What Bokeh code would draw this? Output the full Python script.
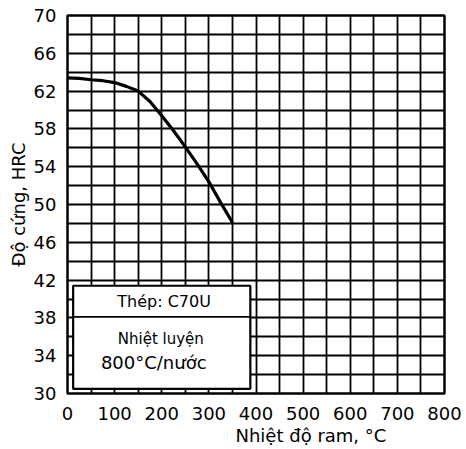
from bokeh.plotting import figure
from bokeh.models import SingleIntervalTicker, FixedTicker, Label, BoxAnnotation, Title
from bokeh.embed import file_html
from bokeh.resources import INLINE

# Tempering temperature (°C) and hardness (HRC) of C70U steel
temper_c = [0, 25, 50, 75, 100, 125, 150, 175, 200, 225, 250, 275, 300, 325, 350]
hardness_hrc = [63.4, 63.35, 63.2, 63.1, 62.9, 62.5, 62.0, 60.9, 59.4, 57.8, 56.1, 54.3, 52.4, 50.2, 48.1]

x_ticks = [0, 100, 200, 300, 400, 500, 600, 700, 800]
y_ticks = [30, 34, 38, 42, 46, 50, 54, 58, 62, 66, 70]
x_label = "Nhiệt độ ram, °C"
y_label = "Độ cứng, HRC"
steel_title = "Thép: C70U"
treatment_lines = ["Nhiệt luyện", "800°C/nước"]

FONT = "DejaVu Sans"

p = figure(width=466, height=449, output_backend="svg", toolbar_location=None,
           x_range=(x_ticks[0], x_ticks[-1]), y_range=(y_ticks[0], y_ticks[-1]),
           min_border_left=67, min_border_right=22, min_border_top=15, min_border_bottom=56)
p.background_fill_color = "white"
p.border_fill_color = "white"
p.outline_line_color = "black"
p.outline_line_width = 2.5

# grid: 50 °C by 2 HRC
p.xgrid.ticker = SingleIntervalTicker(interval=50)
p.ygrid.ticker = SingleIntervalTicker(interval=2)
for g in (p.xgrid, p.ygrid):
    g.grid_line_color = "black"
    g.grid_line_width = 1.8
    g.grid_line_alpha = 1.0

p.xaxis.ticker = FixedTicker(ticks=x_ticks)
p.yaxis.ticker = FixedTicker(ticks=y_ticks)
for ax in (p.xaxis, p.yaxis):
    ax.axis_line_color = None
    ax.major_tick_line_color = None
    ax.minor_tick_line_color = None
    ax.major_label_text_font = FONT
    ax.major_label_text_font_size = "18px"
    ax.major_label_text_color = "black"
p.xaxis.major_label_standoff = 7
p.yaxis.major_label_standoff = 5

p.line(temper_c, hardness_hrc, line_color="black", line_width=3.2)

# info box over the lower-left of the grid
p.add_layout(BoxAnnotation(left=12, right=388, bottom=30.5, top=41.4,
                           fill_color="white", fill_alpha=1.0,
                           line_color="black", line_alpha=1.0, line_width=2.2))
p.add_layout(BoxAnnotation(left=12, right=388, bottom=38.1, top=38.1,
                           fill_alpha=0, line_color="black", line_alpha=1.0, line_width=1.8))

p.add_layout(Label(x=205, y=39.75, text=steel_title, text_align="center",
                   text_baseline="middle", text_font=FONT, text_font_size="16px",
                   text_color="black"))
p.add_layout(Label(x=198, y=35.8, text=treatment_lines[0], text_align="center",
                   text_baseline="middle", text_font=FONT, text_font_size="15px",
                   text_color="black"))
p.add_layout(Label(x=183, y=33.3, text=treatment_lines[1], text_align="center",
                   text_baseline="middle", text_font=FONT, text_font_size="18px",
                   text_color="black"))

# axis titles in the side panels
p.add_layout(Title(text=x_label, align="left", offset=168, standoff=0,
                   text_font=FONT, text_font_size="18px", text_font_style="normal",
                   text_color="black"), "below")
p.add_layout(Title(text=y_label, align="center", offset=10, standoff=3,
                   text_font=FONT, text_font_size="18px", text_font_style="normal",
                   text_color="black"), "left")

open("out.html", "w").write(file_html(p, INLINE))
